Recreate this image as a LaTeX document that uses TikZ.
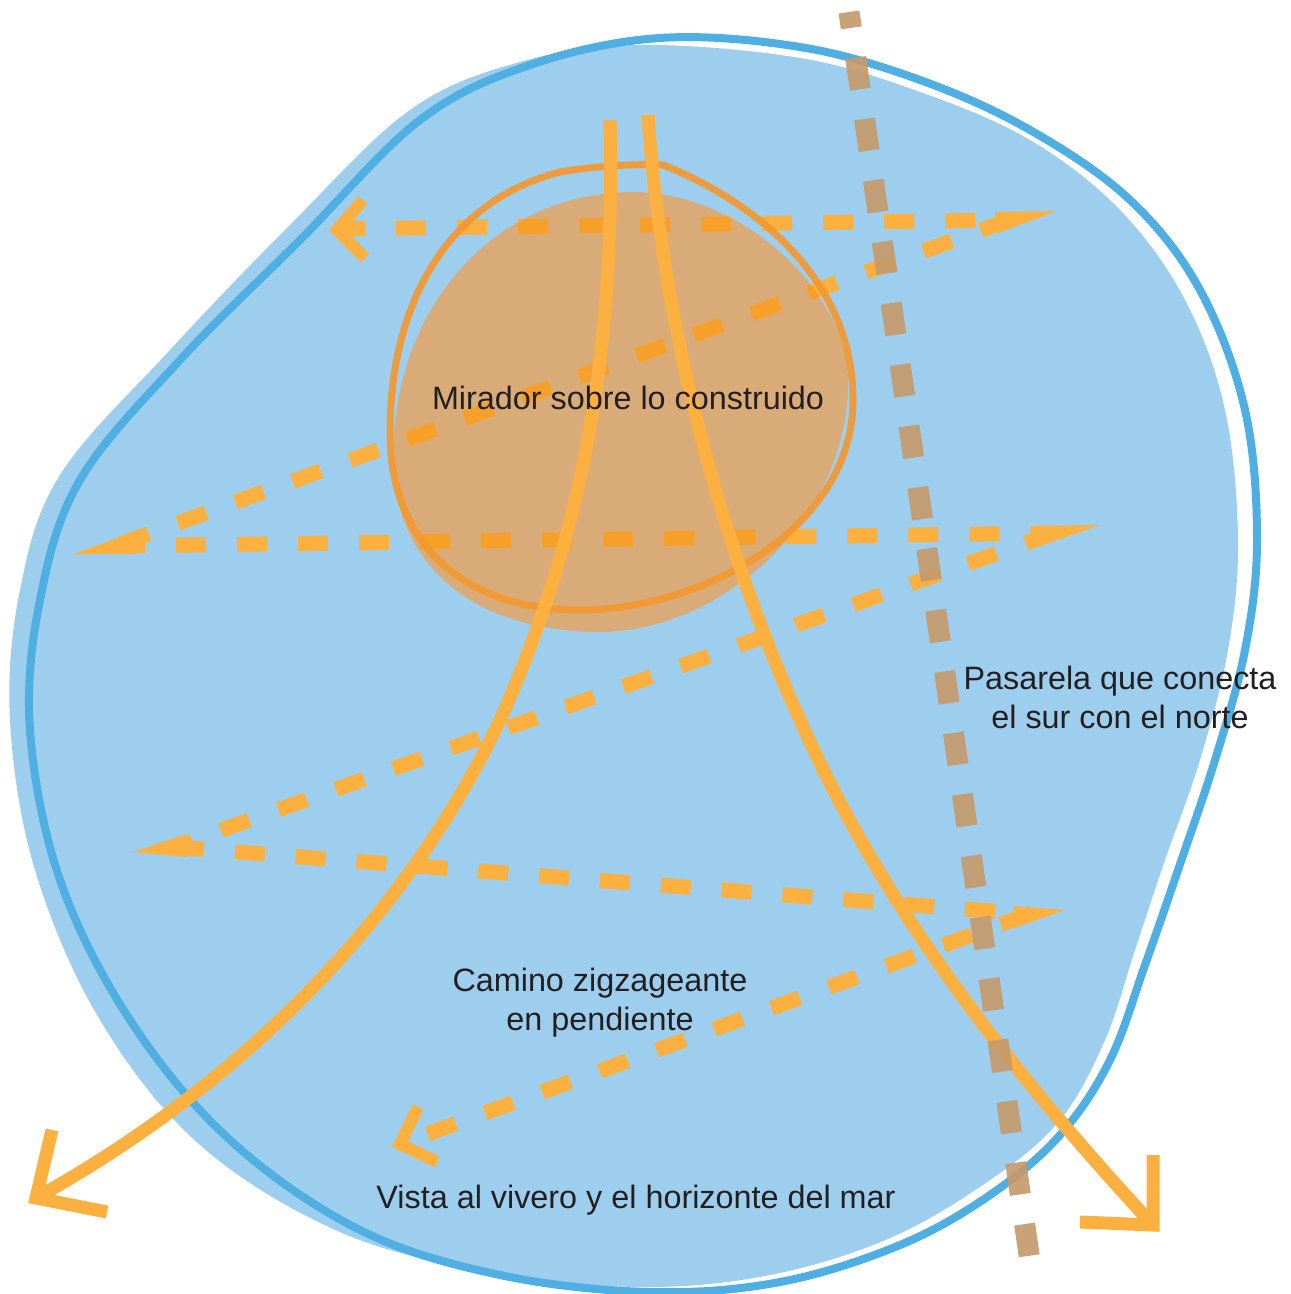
\documentclass[tikz,border=0pt]{standalone}
\usepackage{fontspec}
\setmainfont{Liberation Sans}

\definecolor{bluefill}{RGB}{158,206,237}
\definecolor{blueline}{RGB}{79,174,226}
\definecolor{brownfill}{RGB}{217,171,120}
\definecolor{ringorange}{RGB}{243,152,48}
\definecolor{pathorange}{RGB}{251,176,64}
\definecolor{deeporange}{RGB}{246,160,42}
\definecolor{walkbrown}{RGB}{196,154,108}
\definecolor{textgray}{RGB}{35,31,32}

% outline of the lookout area
\newcommand{\mirablob}{(633,192) .. controls (740,192) and (848,290) .. (848,383) .. controls (848,520) and (720,632) .. (600,632) .. controls (480,632) and (395,570) .. (393,460) .. controls (393,300) and (500,192) .. (633,192) -- cycle}
\newcommand{\zigdashes}[1]{\foreach \a/\b in {z0/z1,z1/z2,z2/z3,z3/z4,z4/z5,z5/z6} \draw[zigpath, draw=#1] (\a) -- (\b);}

\begin{document}
\begin{tikzpicture}[x=0.01cm, y=-0.01cm,
  note/.style={text=textgray, font=\fontsize{9.2}{11.1}\selectfont, align=center, inner sep=0pt},
  zigpath/.style={line width=0.15cm, dash pattern=on 0.3cm off 0.31cm},
  spike/.style={fill=pathorange},
  chevron/.style={draw=pathorange, line width=0.12cm, miter limit=10},
  solidpath/.style={draw=pathorange, line width=0.13cm, miter limit=10},
  walkway/.style={draw=walkbrown, line width=0.21cm, dash pattern=on 0.32cm off 0.30cm, dash phase=0.16cm, opacity=0.92}
]
  \useasboundingbox (0,0) rectangle (1290,1294);

  % site
  \fill[bluefill] plot[smooth cycle, tension=0.6] coordinates {(640,45) (800,58) (920,92) (1030,140) (1120,210) (1185,300) (1225,410) (1238,540) (1228,650) (1200,760) (1165,860) (1135,950) (1105,1040) (1060,1120) (990,1180) (890,1238) (770,1275) (640,1287) (490,1272) (340,1232) (200,1145) (100,1020) (35,870) (10,720) (20,590) (60,475) (170,350) (290,225) (410,110) (520,62)};
  \draw[blueline, line width=0.08cm] plot[smooth cycle, tension=0.6] coordinates {(660,38) (800,47) (920,80) (1030,130) (1130,200) (1200,290) (1245,410) (1257,540) (1245,650) (1215,760) (1178,870) (1145,965) (1110,1060) (1060,1135) (990,1195) (900,1245) (780,1282) (650,1292) (500,1275) (360,1230) (230,1140) (130,1020) (60,880) (30,730) (40,600) (80,480) (180,360) (300,240) (420,120) (530,65)};

  \fill[brownfill] \mirablob;

  % zigzag path
  \coordinate (z0) at (335,229);
  \coordinate (z1) at (1009,220);
  \coordinate (z2) at (115,546);
  \coordinate (z3) at (1054,533);
  \coordinate (z4) at (174,847);
  \coordinate (z5) at (1029,914);
  \coordinate (z6) at (400,1144);
  \zigdashes{pathorange}
  \begin{scope}
    \clip \mirablob;
    \zigdashes{deeporange}
  \end{scope}
  \fill[spike] (995,212) -- (1057,211) -- (998,233) -- cycle;
  \fill[spike] (73,554) -- (131,533) -- (135,554) -- cycle;
  \fill[spike] (1037,526) -- (1100,525) -- (1040,546) -- cycle;
  \fill[spike] (133,852) -- (183,835) -- (187,857) -- cycle;
  \fill[spike] (1013,906) -- (1065,910) -- (1017,927) -- cycle;
  \draw[chevron] (363,200) -- (337,230) -- (365,258);
  \draw[chevron] (418,1107) -- (400,1144) -- (437,1162);

  \draw[ringorange, line width=0.07cm, opacity=0.92] (663,165) .. controls (740,195) and (853,270) .. (853,400) .. controls (853,530) and (700,610) .. (580,610) .. controls (460,610) and (390,540) .. (390,433) .. controls (390,300) and (450,200) .. (560,172) .. controls (600,165) and (640,164) .. (663,165) -- cycle;

  % descending paths
  \coordinate (leftstart) at (610,120);
  \coordinate (lefttip) at (36,1198);
  \coordinate (rightstart) at (648,115);
  \coordinate (righttip) at (1153,1225);
  \draw[solidpath] (leftstart) .. controls (615,330) and (590,520) .. (500,720) .. controls (400,930) and (230,1090) .. (lefttip);
  \draw[solidpath] (52,1130) -- (lefttip) -- (107,1212);
  \draw[solidpath] (rightstart) .. controls (660,300) and (710,520) .. (800,720) .. controls (880,900) and (1000,1060) .. (righttip);
  \draw[solidpath] (1153,1155) -- (righttip) -- (1080,1222);

  % walkway
  \coordinate (walknorth) at (849,12);
  \coordinate (walksouth) at (1033,1282);
  \draw[walkway] (walknorth) -- (walksouth);

  \node[note] (mirador) at (628,398) {Mirador sobre lo construido};
  \node[note] (pasarela) at (1120,697) {Pasarela que conecta\\el sur con el norte};
  \node[note] (camino) at (600,1003) {Camino zigzageante\\en pendiente};
  \node[note] (vista) at (636,1200) {Vista al vivero y el horizonte del mar};
\end{tikzpicture}
\end{document}
